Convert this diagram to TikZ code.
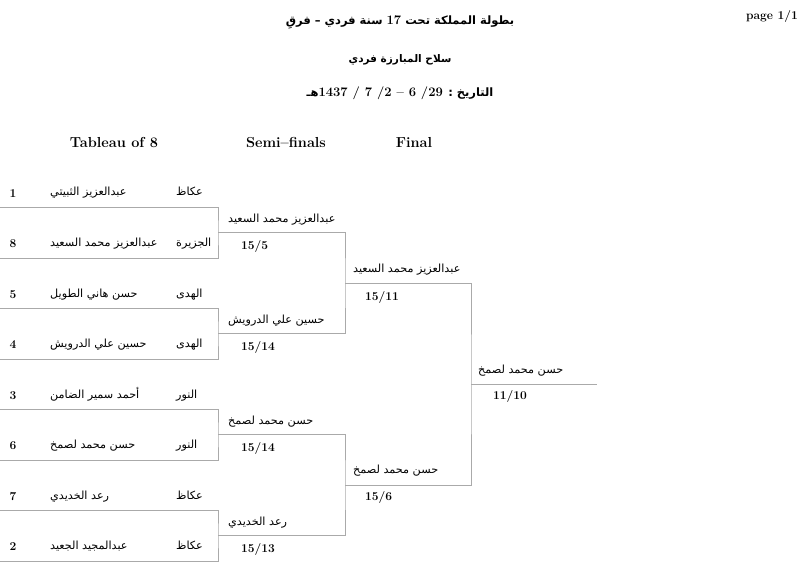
\documentclass[tikz,border=0pt]{standalone}
\usepackage{fontspec}
\newfontfamily\arabicfont[Script=Arabic]{DejaVu Sans}
\TeXXeTstate=1
\newcommand{\AR}[1]{\beginR #1\endR}
\newcommand{\LT}[1]{\beginL{\normalfont\bfseries #1}\endL{}}
\definecolor{linegray}{RGB}{170,170,170}

\begin{document}
\begin{tikzpicture}[x=1pt,y=-1pt,
  bracket/.style={draw=linegray, line width=0.9pt},
  titletxt/.style={font=\arabicfont\bfseries\fontsize{11.5}{14}\selectfont, inner sep=0pt},
  headtxt/.style={font=\bfseries\fontsize{14.5}{17}\selectfont, inner sep=0pt},
  seedno/.style={font=\bfseries\fontsize{12}{14}\selectfont, inner sep=0pt},
  fencer/.style={anchor=west, font=\arabicfont\fontsize{11.2}{13}\selectfont, inner sep=0pt, text height=7.5pt, text depth=2.5pt},
  clubtxt/.style={fencer},
  scoretxt/.style={anchor=west, font=\bfseries\fontsize{12}{14}\selectfont, inner sep=0pt}]
  \useasboundingbox (0,0) rectangle (809,567);

  \node[titletxt] (title) at (400,22) {\AR{بطولة المملكة تحت \LT{\fontsize{13}{15}\selectfont 17} سنة فردي – فرقِ}};
  \node[titletxt, font=\arabicfont\bfseries\fontsize{10.5}{13}\selectfont] (weapon) at (400,60) {\AR{سلاح المبارزة فردي}};
  \node[titletxt] (date) at (400,93) {\AR{التاريخ : \LT{\fontsize{13}{15}\selectfont 1437 / 7 /2 -- 6 /29}هـ}};
  \node[seedno, anchor=east] (page) at (798,17) {page 1/1};

  \node[headtxt] (tab8) at (114,143) {Tableau of 8};
  \node[headtxt] (semis) at (286,143) {Semi--finals};
  \node[headtxt] (final) at (414,143) {Final};

  \foreach \seed/\who/\club [count=\i] in {1/عبدالعزيز الثبيتي/عكاظ, 8/عبدالعزيز محمد السعيد/الجزيرة,
      5/حسن هاني الطويل/الهدى, 4/حسين علي الدرويش/الهدى, 3/أحمد سمير الضامن/النور,
      6/حسن محمد لصمخ/النور, 7/رعد الخديدي/عكاظ, 2/عبدالمجيد الجعيد/عكاظ}{
    \coordinate (A\i) at (0,157+50.5*\i);
    \node[seedno] (seed\i) at (13,143+50.5*\i) {\seed};
    \node[fencer] (fencer\i) at (50,143+50.5*\i) {\AR{\who}};
    \node[clubtxt] (club\i) at (176,143+50.5*\i) {\AR{\club}};
  }

  \foreach \who/\score [count=\j] in {عبدالعزيز محمد السعيد/15\slash5, حسين علي الدرويش/15\slash14,
      حسن محمد لصمخ/15\slash14, رعد الخديدي/15\slash13}{
    \coordinate (S\j) at (218,131.75+101*\j);
    \node[fencer] (semi\j) at (228,118.75+101*\j) {\AR{\who}};
    \node[scoretxt] (semiscore\j) at (241,145.75+101*\j) {\score};
  }

  \coordinate (F1) at (345,283.25);
  \coordinate (F2) at (345,485.25);
  \node[fencer] (fin1) at (353,270) {\AR{عبدالعزيز محمد السعيد}};
  \node[scoretxt] (finscore1) at (365,297) {15/11};
  \node[fencer] (fin2) at (353,471) {\AR{حسن محمد لصمخ}};
  \node[scoretxt] (finscore2) at (365,497) {15/6};

  \coordinate (C) at (471,384.25);
  \coordinate (CE) at (597,384.25);
  \node[fencer] (champ) at (478,371) {\AR{حسن محمد لصمخ}};
  \node[scoretxt] (champscore) at (493,396) {11/10};

  \draw[bracket] (A1) -| (S1) |- (A2);
  \draw[bracket] (A3) -| (S2) |- (A4);
  \draw[bracket] (A5) -| (S3) |- (A6);
  \draw[bracket] (A7) -| (S4) |- (A8);
  \draw[bracket] (S1) -| (F1) |- (S2);
  \draw[bracket] (S3) -| (F2) |- (S4);
  \draw[bracket] (F1) -| (C) |- (F2);
  \draw[bracket] (C) -- (CE);
\end{tikzpicture}
\end{document}
